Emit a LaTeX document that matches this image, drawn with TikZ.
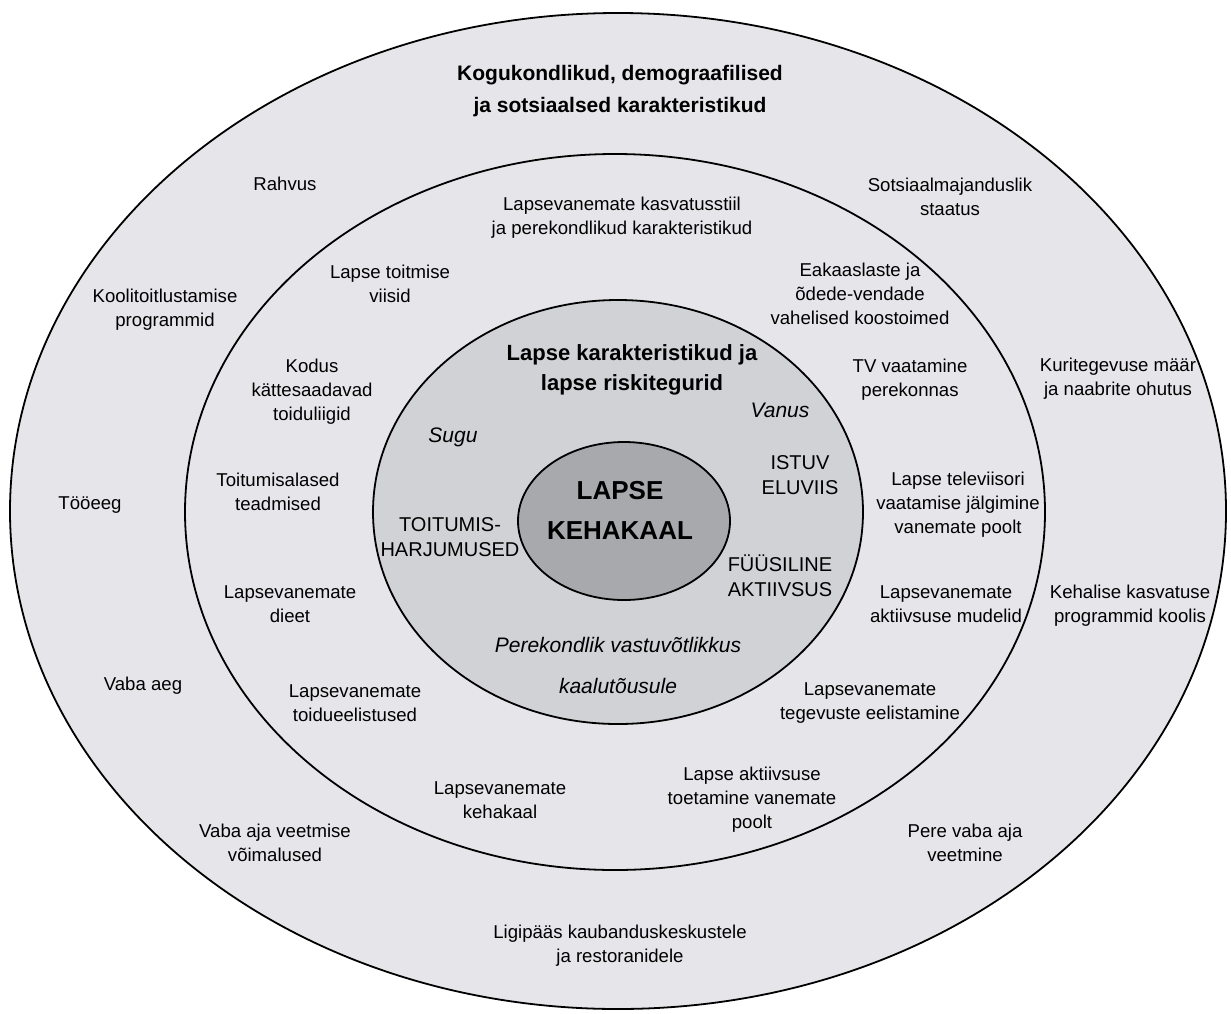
\documentclass[tikz,border=0pt]{standalone}
\usepackage{fontspec}
\setmainfont{Liberation Sans}
\usepackage{tikz}

\begin{document}
\begin{tikzpicture}[x=0.5pt, y=-0.5pt,
    lbl/.style={align=center, inner sep=0pt, font=\fontsize{9.3}{12}\selectfont},
    caps/.style={align=center, inner sep=0pt, font=\fontsize{10}{12.5}\selectfont},
    ital/.style={align=center, inner sep=0pt, font=\fontsize{10.5}{12}\selectfont\itshape},
    head/.style={align=center, inner sep=0pt, font=\fontsize{10.5}{16}\selectfont\bfseries},
    ring/.style={draw=black, line width=0.9pt}]
    % colours
    \definecolor{ringlight}{RGB}{230, 230, 234}
    \definecolor{ringmid}{RGB}{208, 210, 213}
    \definecolor{ringcore}{RGB}{167, 169, 172}

    \useasboundingbox (0,0) rectangle (1231,1013);

    % ellipses
    \draw[ring, fill=ringlight] (618,511) ellipse [x radius=608, y radius=498];
    \draw[ring, fill=ringlight] (615,512) ellipse [x radius=430, y radius=358];
    \draw[ring, fill=ringmid] (618,512) ellipse [x radius=245, y radius=212];
    \draw[ring, fill=ringcore] (624,521) ellipse [x radius=106, y radius=79];

    % outer ring
    \node[head] (community) at (620,91) {Kogukondlikud, demograafilised\\ja sotsiaalsed karakteristikud};
    \node[lbl] (nation) at (285,184) {Rahvus};
    \node[lbl] (status) at (950,197) {Sotsiaalmajanduslik\\staatus};
    \node[lbl] (schoolfood) at (165,310) {Koolitoitlustamise\\programmid};
    \node[lbl] (crime) at (1118,379) {Kuritegevuse määr\\ja naabrite ohutus};
    \node[lbl] (worktime) at (90,505) {Tööeeg};
    \node[lbl] (pe) at (1130,606) {Kehalise kasvatuse\\programmid koolis};
    \node[lbl] (leisure) at (143,686) {Vaba aeg};
    \node[lbl] (leisureopt) at (275,843) {Vaba aja veetmise\\võimalused};
    \node[lbl] (familyleisure) at (965,843) {Pere vaba aja\\veetmine};
    \node[lbl] (access) at (620,946) {Ligipääs kaubanduskeskustele\\ja restoranidele};

    % middle ring
    \node[lbl] (parenting) at (622,218) {Lapsevanemate kasvatusstiil\\ja perekondlikud karakteristikud};
    \node[lbl] (feeding) at (390,284) {Lapse toitmise\\viisid};
    \node[lbl] (peers) at (860,294) {Eakaaslaste ja\\õdede-vendade\\vahelised koostoimed};
    \node[lbl] (homefood) at (312,392) {Kodus\\kättesaadavad\\toiduliigid};
    \node[lbl] (tvfamily) at (910,380) {TV vaatamine\\perekonnas};
    \node[lbl] (knowledge) at (278,492) {Toitumisalased\\teadmised};
    \node[lbl] (tvmonitor) at (958,505) {Lapse televiisori\\vaatamise jälgimine\\vanemate poolt};
    \node[lbl] (diet) at (290,604) {Lapsevanemate\\dieet};
    \node[lbl] (activemodel) at (946,604) {Lapsevanemate\\aktiivsuse mudelid};
    \node[lbl] (foodpref) at (355,703) {Lapsevanemate\\toidueelistused};
    \node[lbl] (actpref) at (870,703) {Lapsevanemate\\tegevuste eelistamine};
    \node[lbl] (parentweight) at (500,800) {Lapsevanemate\\kehakaal};
    \node[lbl] (support) at (752,800) {Lapse aktiivsuse\\toetamine vanemate\\poolt};

    % inner ring
    \node[head, font=\fontsize{11}{15}\selectfont\bfseries] (childchar) at (632,370) {Lapse karakteristikud ja\\lapse riskitegurid};
    \node[ital] (age) at (780,410) {Vanus};
    \node[ital] (sex) at (453,437) {Sugu};
    \node[caps] (sedentary) at (800,475) {ISTUV\\ELUVIIS};
    \node[caps] (eating) at (450,537) {TOITUMIS-\\HARJUMUSED};
    \node[caps] (physical) at (780,576) {FÜÜSILINE\\AKTIIVSUS};
    \node[ital] (suscept1) at (618,645) {Perekondlik vastuvõtlikkus};
    \node[ital] (suscept2) at (618,686) {kaalutõusule};

    % core
    \node[align=center, inner sep=0pt, font=\fontsize{13}{20}\selectfont\bfseries] (weight) at (620,510) {LAPSE\\KEHAKAAL};
\end{tikzpicture}
\end{document}
